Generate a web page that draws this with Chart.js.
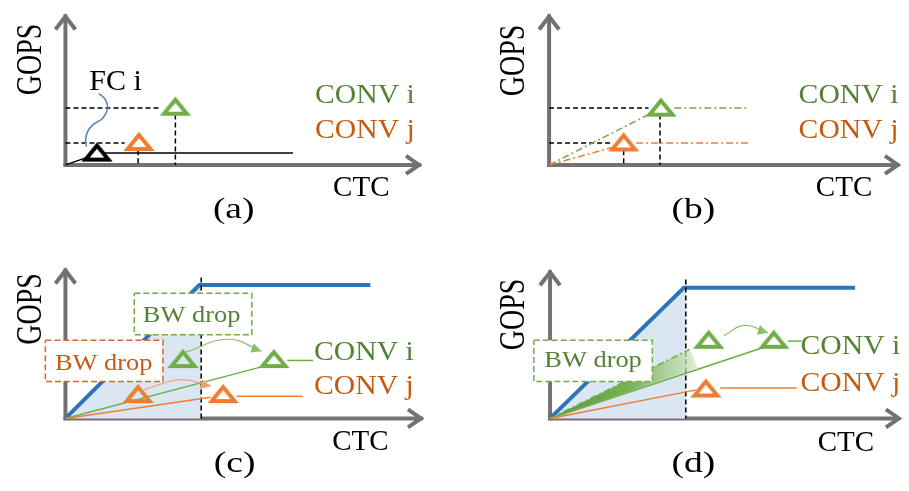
<!DOCTYPE html>
<html><head><meta charset="utf-8">
<script src="https://cdn.jsdelivr.net/npm/chart.js@4.4.1/dist/chart.umd.min.js"></script>
<style>
html,body{margin:0;padding:0;background:#fff;}
#wrap{position:relative;width:909px;height:491px;overflow:hidden;background:#fff;}
.pn{position:absolute;}
canvas{display:block;}
</style></head><body>
<div id="wrap">
<div class="pn" style="left:0;top:0;"><canvas id="ca" width="454" height="240"></canvas></div>
<div class="pn" style="left:454px;top:0;"><canvas id="cb" width="455" height="240"></canvas></div>
<div class="pn" style="left:0;top:240px;"><canvas id="cc" width="454" height="251"></canvas></div>
<div class="pn" style="left:454px;top:240px;"><canvas id="cd" width="455" height="251"></canvas></div>
</div>
<script>
// ---------- DATA (x = CTC, y = GOPS, arbitrary units, origin at axis crossing) ----------
// Panel (a)
const aAxisY = [[0,-2],[0,164]];
const aAxisX = [[-2,0],[372,0]];
const aConvI = [115,64];
const aConvJ = [77,25.5];
const aFcI = [33,14];
const aConvIDashH = [[0,62],[100,62]];
const aConvIDashV = [[115,55],[115,0]];
const aConvJDashH = [[0,24],[62,24]];
const aConvJDashV = [[76,16],[76,0]];
const aFcRise = [[0,0],[22,8]];
const aFcRoof = [[40,13],[238,13]];
const aFcPointer = [[35,78],[42,71],[44,61],[39,51],[29,44],[23,36],[21,26],[22,20]];
// Panel (b)
const bAxisY = [[0,-2],[0,164]];
const bAxisX = [[-2,0],[367,0]];
const bConvI = [117,63];
const bConvJ = [78,25];
const bConvIDashH = [[0,62],[104,62]];
const bConvIDashV = [[116,55],[116,0]];
const bConvJDashH = [[0,24],[64,24]];
const bConvJDashV = [[78,16],[78,0]];
const bConvIRise = [[0,0],[108,57]];
const bConvIFlat = [[131,62],[208,62]];
const bConvJRise = [[0,0],[66,19]];
const bConvJFlat = [[91,24],[208,24]];
// Panel (c)
const cAxisY = [[0,-2],[0,163]];
const cAxisX = [[-2,0],[374,0]];
const cRoof = [[0,0],[140,145],[319,145]];
const cShade = [[0,0],[140,145],[142,145],[142,0]];
const cKnee = [[142,153],[142,0]];
const cBoxI = [[72,136],[195,136],[195,91],[72,91],[72,136]];
const cBoxJ = [[-21,85],[102,85],[102,40],[-21,40],[-21,85]];
const cConvIOld = [123,65];
const cConvINew = [218,65];
const cConvJOld = [76,27];
const cConvJNew = [165,27];
const cConvIRise = [[0,0],[205,56]];
const cConvIFlat = [[232,63],[259,63]];
const cConvJRise = [[0,0],[152,23]];
const cConvJFlat = [[179,24],[248,24]];
const cMoveI = [[126,72],[170,86],[205,73]];
const cMoveJ = [[82,31],[120,42],[152,35]];
// Panel (d)
const dAxisY = [[0,-2],[0,161]];
const dAxisX = [[-2,0],[367,0]];
const dRoof = [[0,0],[140,142],[319,142]];
const dShade = [[0,0],[140,142],[142,142],[142,0]];
const dKnee = [[142,151],[142,0]];
const dBoxI = [[-17,85],[107,85],[107,40],[-17,40],[-17,85]];
const dWedge = [[0,0],[146,75],[150,66],[154,55],[0,0]];
const dConvIOld = [166,86];
const dConvINew = [234,86];
const dConvJ = [163,33];
const dConvIRiseOld = [[0,0],[146,75]];
const dConvIRise = [[0,0],[223,77]];
const dConvIFlat = [[249,84],[263,84]];
const dConvJRise = [[0,0],[153,31]];
const dConvJFlat = [[178,33],[258,33]];
const dMoveI = [[182,90],[203,101],[228,93]];

// ---------- STYLE ----------
const SERIF = '"Liberation Serif","Times New Roman",serif';
const GREEN='#70ad47', GREEN_T='#548235', ORANGE='#ed7d31', ORANGE_T='#c55a11',
      BLUE='#2e75b6', WAVE='#4f81bd', AXIS='#767171', SHADE='#dbe6f3', BLACK='#000';
const DASH=[5,3], DASHDOT=[7,3,2,3], BOXDASH=[6,3];

function triImg(color){
  const c=document.createElement('canvas'); c.width=36; c.height=21;
  const g=c.getContext('2d'); g.strokeStyle=color; g.lineWidth=4; g.lineJoin='miter'; g.miterLimit=10;
  g.beginPath(); g.moveTo(18,4); g.lineTo(29.5,18); g.lineTo(6.5,18); g.closePath(); g.stroke();
  return c;
}
const TG=triImg(GREEN), TO=triImg(ORANGE), TK=triImg('#000');

const P = a => a.map(([x,y])=>({x,y}));
function L(data,color,width,more){
  return Object.assign({data:P(data),showLine:true,borderColor:color,borderWidth:width,
    pointRadius:0,fill:false,tension:0,backgroundColor:'rgba(0,0,0,0)'},more||{});
}
function T(pos,img){ return {data:P([pos]),showLine:false,pointStyle:img,pointRadius:10,borderWidth:0}; }
function axes(y,x){ return [L(y,AXIS,4,{axisArrow:'y'}), L(x,AXIS,4,{axisArrow:'x'})]; }
function box(d,color){ return L(d,color,1.5,{borderDash:BOXDASH,fill:'shape',backgroundColor:'#fff'}); }

const deco = {
  id:'deco',
  afterDatasetsDraw(chart,args,opts){
    const ctx=chart.ctx, X=chart.scales.x, Y=chart.scales.y;
    chart.data.datasets.forEach((ds,i)=>{
      const pts=chart.getDatasetMeta(i).data, n=pts.length, p=pts[n-1];
      if(ds.arrowEnd){
        const q=pts[n-2];
        let cx=(p.cp1x!==undefined)?p.cp1x:q.x, cy=(p.cp1y!==undefined)?p.cp1y:q.y;
        const a=Math.atan2(p.y-cy,p.x-cx);
        ctx.save(); ctx.translate(p.x,p.y); ctx.rotate(a); ctx.fillStyle=ds.borderColor;
        ctx.beginPath(); ctx.moveTo(0,0); ctx.lineTo(-10,-5); ctx.lineTo(-10,5); ctx.closePath(); ctx.fill(); ctx.restore();
      }
      if(ds.axisArrow){
        ctx.save(); ctx.strokeStyle=AXIS; ctx.lineWidth=4; ctx.lineJoin='miter'; ctx.lineCap='butt';
        ctx.beginPath();
        if(ds.axisArrow==='y'){ ctx.moveTo(p.x-10,p.y+15); ctx.lineTo(p.x,p.y+2); ctx.lineTo(p.x+10,p.y+15); }
        else { ctx.moveTo(p.x-15,p.y-9); ctx.lineTo(p.x-2,p.y); ctx.lineTo(p.x-15,p.y+9); }
        ctx.stroke(); ctx.restore();
      }
    });
    (opts.texts||[]).forEach(t=>{
      ctx.save();
      ctx.translate(X.getPixelForValue(t.at[0]),Y.getPixelForValue(t.at[1]));
      ctx.scale(t.sx||1,1);
      if(t.rot) ctx.rotate(-Math.PI/2);
      ctx.font=t.size+'px '+SERIF; ctx.fillStyle=t.color||BLACK;
      ctx.textAlign=t.align||'left'; ctx.textBaseline='alphabetic';
      ctx.fillText(t.text,0,0); ctx.restore();
    });
  }
};

function build(id,range,list,texts){
  list.forEach((d,i)=>{ d.order=list.length-i; });
  new Chart(document.getElementById(id),{
    type:'scatter', data:{datasets:list},
    options:{responsive:false,animation:false,devicePixelRatio:1,events:[],
      layout:{padding:0},
      scales:{x:{type:'linear',display:false,min:range[0],max:range[1]},
              y:{type:'linear',display:false,min:range[2],max:range[3]}},
      plugins:{legend:{display:false},tooltip:{enabled:false},deco:{texts}}},
    plugins:[deco]});
}
const lab = (text,at,o)=>Object.assign({text,at},o);
const convTxt = (yI,yJ,x)=>[lab('CONV i',[x,yI],{size:27,sx:1.1,color:GREEN_T}),lab('CONV j',[x,yJ],{size:27,sx:1.1,color:ORANGE_T})];

// ---------- (a) ----------
build('ca',[-58,396,-71,169],[
  ...axes(aAxisY,aAxisX),
  L(aConvIDashH,BLACK,1.5,{borderDash:DASH}), L(aConvIDashV,BLACK,1.5,{borderDash:DASH}),
  L(aConvJDashH,BLACK,1.5,{borderDash:DASH}), L(aConvJDashV,BLACK,1.5,{borderDash:DASH}),
  L(aFcRise,BLACK,1.5), L(aFcRoof,BLACK,1.5),
  L(aFcPointer,WAVE,1.5,{tension:0.4}),
  T(aFcI,TK), T(aConvJ,TO), T(aConvI,TG)
],[
  lab('GOPS',[-26,115],{size:28,sx:1.3,rot:true,align:'center'}),
  lab('FC i',[25,82],{size:30}),
  ...convTxt(68,29,261),
  lab('CTC',[280,-34],{size:29}),
  lab('(a)',[176,-58],{size:30,sx:1.25,align:'center'})
]);

// ---------- (b) ----------
build('cb',[-89,366,-71,169],[
  ...axes(bAxisY,bAxisX),
  L(bConvIDashH,BLACK,1.5,{borderDash:DASH}), L(bConvIDashV,BLACK,1.5,{borderDash:DASH}),
  L(bConvJDashH,BLACK,1.5,{borderDash:DASH}), L(bConvJDashV,BLACK,1.5,{borderDash:DASH}),
  L(bConvIRise,GREEN,1.5,{borderDash:DASHDOT}), L(bConvIFlat,GREEN,1.5,{borderDash:DASHDOT}),
  L(bConvJRise,ORANGE,1.5,{borderDash:DASHDOT}), L(bConvJFlat,ORANGE,1.5,{borderDash:DASHDOT}),
  T(bConvJ,TO), T(bConvI,TG)
],[
  lab('GOPS',[-26,114],{size:28,sx:1.3,rot:true,align:'center'}),
  ...convTxt(68,29,261),
  lab('CTC',[279,-34],{size:29}),
  lab('(b)',[151,-58],{size:30,sx:1.25,align:'center'})
]);

// ---------- (c) ----------
build('cc',[-58,396,-68,183],[
  ...axes(cAxisY,cAxisX),
  L(cShade,SHADE,0,{fill:'shape',backgroundColor:SHADE}),
  L(cRoof,BLUE,4),
  L(cKnee,BLACK,1.5,{borderDash:DASH}),
  box(cBoxI,GREEN), box(cBoxJ,'#d0692a'),
  L(cConvIRise,GREEN,1.5), L(cConvIFlat,GREEN,1.5),
  L(cConvJRise,ORANGE,1.5), L(cConvJFlat,ORANGE,1.5),
  L(cMoveI,'#8cc068',1.2,{tension:0.45,arrowEnd:true}),
  L(cMoveJ,'#f0a070',1.2,{tension:0.45,arrowEnd:true}),
  T(cConvJOld,TO), T(cConvJNew,TO), T(cConvIOld,TG), T(cConvINew,TG)
],[
  lab('GOPS',[-26,119],{size:28,sx:1.3,rot:true,align:'center'}),
  lab('BW drop',[132,105],{size:24,sx:1.1,color:GREEN_T,align:'center'}),
  lab('BW drop',[40,53],{size:24,sx:1.1,color:ORANGE_T,align:'center'}),
  ...convTxt(63,26,260),
  lab('CTC',[279,-34],{size:29}),
  lab('(c)',[177,-58],{size:30,sx:1.25,align:'center'})
]);

// ---------- (d) ----------
const wedgeFill = (c)=>{
  const ch=c.chart; if(!ch.chartArea) return 'rgba(112,173,71,0.5)';
  const X=ch.scales.x;
  const g=ch.ctx.createLinearGradient(X.getPixelForValue(0),0,X.getPixelForValue(154),0);
  g.addColorStop(0,'#5a9838'); g.addColorStop(0.55,'#78b254'); g.addColorStop(1,'rgba(205,228,190,0.7)');
  return g;
};
build('cd',[-90,365,-68,183],[
  ...axes(dAxisY,dAxisX),
  L(dShade,SHADE,0,{fill:'shape',backgroundColor:SHADE}),
  L(dRoof,BLUE,4),
  L(dKnee,BLACK,1.5,{borderDash:DASH}),
  L(dWedge,GREEN,0,{fill:'shape',backgroundColor:wedgeFill}),
  L(dConvIRiseOld,GREEN,1.5,{borderDash:DASHDOT}),
  L(dConvIRise,GREEN,1.5), L(dConvIFlat,GREEN,1.5),
  L(dConvJRise,ORANGE,1.5), L(dConvJFlat,ORANGE,1.5),
  box(dBoxI,GREEN),
  L(dMoveI,'#8cc068',1.2,{tension:0.45,arrowEnd:true}),
  T(dConvJ,TO), T(dConvIOld,TG), T(dConvINew,TG)
],[
  lab('GOPS',[-27,113],{size:28,sx:1.3,rot:true,align:'center'}),
  lab('BW drop',[45,56],{size:24,sx:1.1,color:GREEN_T,align:'center'}),
  ...convTxt(70,30,262),
  lab('CTC',[280,-35],{size:29}),
  lab('(d)',[150,-58],{size:30,sx:1.25,align:'center'})
]);
</script>
</body></html>
